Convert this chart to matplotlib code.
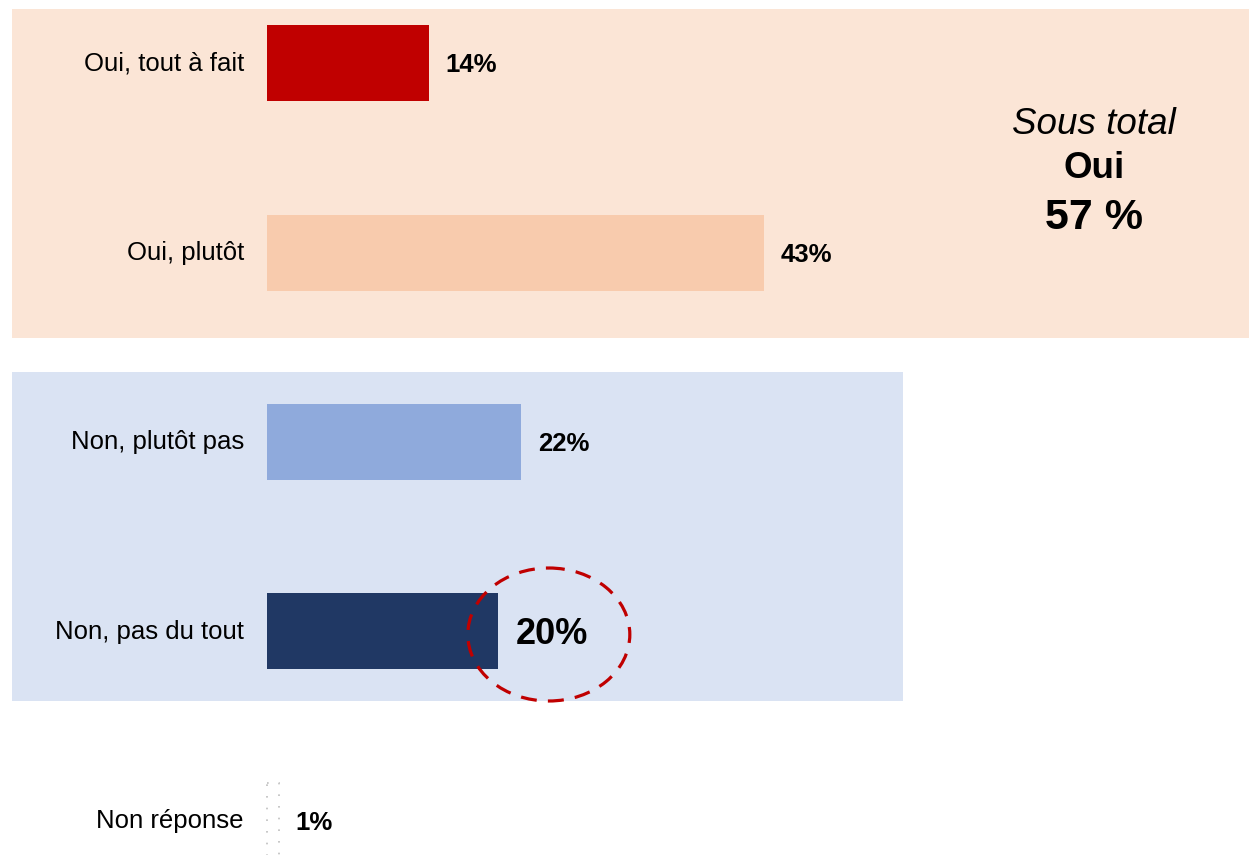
import numpy as np
import matplotlib.pyplot as plt
from matplotlib.patches import Rectangle, Ellipse

plt.rcParams['font.family'] = ['Liberation Sans', 'DejaVu Sans']

categories = ["Oui, tout à fait", "Oui, plutôt", "Non, plutôt pas", "Non, pas du tout", "Non réponse"]
values = [14, 43, 22, 20, 1]
bar_colors = ["#C00000", "#F8CBAD", "#8FAADC", "#203864", "none"]
subtotal_oui = values[0] + values[1]

W, H = 1249, 855
fig = plt.figure(figsize=(W / 100, H / 100), dpi=100)

# shaded group panels (figure fraction)
def panel(x0, y0, x1, y1, color):
    fig.add_artist(Rectangle((x0 / W, 1 - y1 / H), (x1 - x0) / W, (y1 - y0) / H,
                             transform=fig.transFigure, facecolor=color,
                             edgecolor='none', zorder=0))

panel(12, 9, 1249, 338, "#FBE5D6")
panel(12, 372, 903, 701, "#DAE3F3")

ax = fig.add_axes([0, 0, 1, 1])
ax.patch.set_alpha(0)
px_per_unit = 11.55
x0_px = 267
ax.set_xlim(-x0_px / px_per_unit, (W - x0_px) / px_per_unit)
step = 189.5
ax.set_ylim((H - 63) / step, -63 / step)
ax.axis('off')

y = np.arange(len(categories))
bars = ax.barh(y, values, height=76 / step, color=bar_colors, zorder=2)
nr = bars[-1]
nr.set_edgecolor("#BFBFBF")
nr.set_linestyle((0, (1, 6)))
nr.set_linewidth(1.2)

for yi, cat in zip(y, categories):
    ax.text(-23 / px_per_unit, yi, cat, ha='right', va='center', fontsize=18.5, zorder=3)

for yi, v in zip(y, values):
    if v == 20:
        ax.text(v + 1.55, yi + 3 / step, f"{v}%", ha='left', va='center', fontsize=26,
                fontweight='bold', zorder=3)
    else:
        ax.text(v + 1.45, yi + 2 / step, f"{v}%", ha='left', va='center', fontsize=18.5,
                fontweight='bold', zorder=3)

# highlight around the "pas du tout" value
ax.add_patch(Ellipse((24.4, 3.0 + 3 / step), 162 / px_per_unit, 133 / step,
                     fill=False, edgecolor="#C00000", linewidth=2.3,
                     linestyle=(0, (5, 3.5)), zorder=4))

cx = (1094 - x0_px) / px_per_unit
ax.text(cx, (124 - 63) / step, "Sous total", ha='center', va='center',
        fontsize=26.5, style='italic')
ax.text(cx, (168 - 63) / step, "Oui", ha='center', va='center',
        fontsize=26.5, fontweight='bold')
ax.text(cx, (218 - 63) / step, f"{subtotal_oui} %", ha='center', va='center',
        fontsize=31, fontweight='bold')

fig.savefig("out.png", dpi=100)
